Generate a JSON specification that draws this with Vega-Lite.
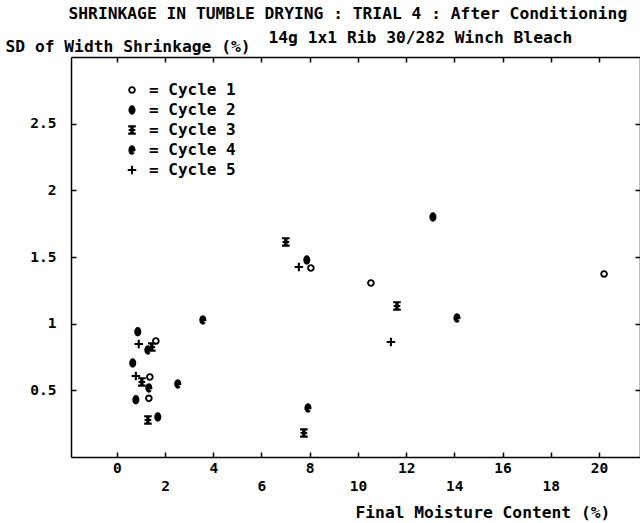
{
  "$schema": "https://vega.github.io/schema/vega-lite/v6.json",
  "width": 569,
  "height": 400,
  "autosize": "none",
  "padding": {"left": 71, "top": 57, "right": 0, "bottom": 66},
  "background": "white",
  "config": {
    "view": {"stroke": null},
    "font": "DejaVu Sans Mono",
    "axis": {
      "domainColor": "black",
      "domainWidth": 1.5,
      "tickColor": "black",
      "tickWidth": 1.5,
      "tickSize": -5,
      "grid": false,
      "labelFont": "DejaVu Sans Mono",
      "labelFontWeight": "bold",
      "labelFontSize": 14.5,
      "labelColor": "black",
      "titleFont": "DejaVu Sans Mono",
      "titleFontWeight": "bold",
      "titleFontSize": 16.3,
      "titleColor": "black",
      "titleAngle": 0,
      "titleAlign": "left",
      "titleBaseline": "middle"
    }
  },
  "data": {
    "values": [
      {"cycle": "Cycle 1", "moisture": 8.05, "sd": 1.418},
      {"cycle": "Cycle 1", "moisture": 10.54, "sd": 1.305},
      {"cycle": "Cycle 1", "moisture": 20.21, "sd": 1.373},
      {"cycle": "Cycle 1", "moisture": 1.62, "sd": 0.87},
      {"cycle": "Cycle 1", "moisture": 1.37, "sd": 0.6},
      {"cycle": "Cycle 1", "moisture": 1.33, "sd": 0.44},
      {"cycle": "Cycle 2", "moisture": 7.88, "sd": 1.478},
      {"cycle": "Cycle 2", "moisture": 13.11, "sd": 1.8},
      {"cycle": "Cycle 2", "moisture": 0.66, "sd": 0.705},
      {"cycle": "Cycle 2", "moisture": 1.7, "sd": 0.3},
      {"cycle": "Cycle 2", "moisture": 0.79, "sd": 0.43},
      {"cycle": "Cycle 2", "moisture": 0.87, "sd": 0.94},
      {"cycle": "Cycle 3", "moisture": 7.01, "sd": 1.613},
      {"cycle": "Cycle 3", "moisture": 11.62, "sd": 1.133},
      {"cycle": "Cycle 3", "moisture": 7.76, "sd": 0.18},
      {"cycle": "Cycle 3", "moisture": 1.45, "sd": 0.825},
      {"cycle": "Cycle 3", "moisture": 1.04, "sd": 0.563},
      {"cycle": "Cycle 3", "moisture": 1.29, "sd": 0.278},
      {"cycle": "Cycle 4", "moisture": 3.57, "sd": 1.028},
      {"cycle": "Cycle 4", "moisture": 14.11, "sd": 1.043},
      {"cycle": "Cycle 4", "moisture": 7.93, "sd": 0.368},
      {"cycle": "Cycle 4", "moisture": 1.29, "sd": 0.803},
      {"cycle": "Cycle 4", "moisture": 1.33, "sd": 0.518},
      {"cycle": "Cycle 4", "moisture": 2.53, "sd": 0.548},
      {"cycle": "Cycle 5", "moisture": 7.55, "sd": 1.425},
      {"cycle": "Cycle 5", "moisture": 11.37, "sd": 0.863},
      {"cycle": "Cycle 5", "moisture": 0.91, "sd": 0.848},
      {"cycle": "Cycle 5", "moisture": 0.79, "sd": 0.608}
    ]
  },
  "layer": [
    {
      "mark": {"type": "point", "filled": true, "color": "black", "opacity": 1, "size": 90, "strokeWidth": 0},
      "encoding": {
        "x": {
          "field": "moisture",
          "type": "quantitative",
          "scale": {"domain": [-1.9, 21.7], "nice": false, "zero": false},
          "axis": {
            "orient": "bottom",
            "values": [0, 2, 4, 6, 8, 10, 12, 14, 16, 18, 20],
            "format": "d",
            "labelExpr": "datum.value % 4 == 0 ? datum.label : ''",
            "labelPadding": 9,
            "title": "Final Moisture Content (%)",
            "titleX": 284,
            "titleY": 55
          }
        },
        "y": {
          "field": "sd",
          "type": "quantitative",
          "scale": {"domain": [0, 3], "nice": false, "zero": false},
          "axis": {
            "orient": "left",
            "values": [0.5, 1, 1.5, 2, 2.5],
            "format": "~g",
            "labelPadding": 20,
            "title": "SD of Width Shrinkage (%)",
            "titleX": -66,
            "titleY": -11
          }
        },
        "shape": {
          "field": "cycle",
          "type": "nominal",
          "scale": {
            "domain": ["Cycle 1", "Cycle 2", "Cycle 3", "Cycle 4", "Cycle 5"],
            "range": [
              "M -0.8 0 A 0.8 0.8 0 1 1 0.8 0 A 0.8 0.8 0 1 1 -0.8 0 Z M -0.4 0 A 0.4 0.4 0 1 0 0.4 0 A 0.4 0.4 0 1 0 -0.4 0 Z",
              "M 0 -1 A 0.75 1 0 1 1 0 1 A 0.75 1 0 1 1 0 -1 Z",
              "M -0.8 -1 H 0.8 V -0.55 H 0.35 V -0.2 H 0.7 V 0.2 H 0.35 V 0.55 H 0.8 V 1 H -0.8 V 0.55 H -0.35 V 0.2 H -0.7 V -0.2 H -0.35 V -0.55 H -0.8 Z",
              "M 0.73 0.2 A 0.75 1 0 1 0 0.6 0.6 L 0.05 0.4 Z",
              "M -0.22 -0.9 H 0.22 V -0.22 H 0.9 V 0.22 H 0.22 V 0.9 H -0.22 V 0.22 H -0.9 V -0.22 H -0.22 Z"
            ]
          },
          "legend": {
            "orient": "none",
            "legendX": 53,
            "legendY": 25,
            "title": null,
            "padding": 0,
            "labelExpr": "'= ' + datum.label",
            "labelFont": "DejaVu Sans Mono",
            "labelFontWeight": "bold",
            "labelFontSize": 16,
            "labelColor": "black",
            "labelOffset": 9,
            "rowPadding": 4,
            "symbolSize": 90,
            "symbolFillColor": "black",
            "symbolStrokeWidth": 0
          }
        }
      }
    },
    {
      "mark": {"type": "point", "opacity": 0},
      "encoding": {
        "x": {
          "field": "moisture",
          "type": "quantitative",
          "axis": {
            "orient": "bottom",
            "values": [2, 6, 10, 14, 18],
            "format": "d",
            "ticks": false,
            "domain": false,
            "labelPadding": 22,
            "labelFont": "DejaVu Sans Mono",
            "labelFontWeight": "bold",
            "labelFontSize": 14.5,
            "labelColor": "black",
            "labelOpacity": 1,
            "title": null
          }
        },
        "y": {"field": "sd", "type": "quantitative", "axis": null}
      }
    },
    {
      "mark": {"type": "point", "opacity": 0},
      "encoding": {
        "x": {
          "field": "moisture",
          "type": "quantitative",
          "axis": {
            "orient": "top",
            "values": [0, 2, 4, 6, 8, 10, 12, 14, 16, 18, 20],
            "labels": false,
            "title": "SHRINKAGE IN TUMBLE DRYING : TRIAL 4 : After Conditioning",
            "titleX": -3,
            "titleY": -44
          }
        },
        "y": {
          "field": "sd",
          "type": "quantitative",
          "axis": {
            "orient": "right",
            "values": [0.5, 1, 1.5, 2, 2.5],
            "labels": false,
            "title": "14g 1x1 Rib 30/282 Winch Bleach",
            "titleX": -372,
            "titleY": -20
          }
        }
      }
    }
  ],
  "resolve": {"axis": {"x": "independent", "y": "independent"}}
}
